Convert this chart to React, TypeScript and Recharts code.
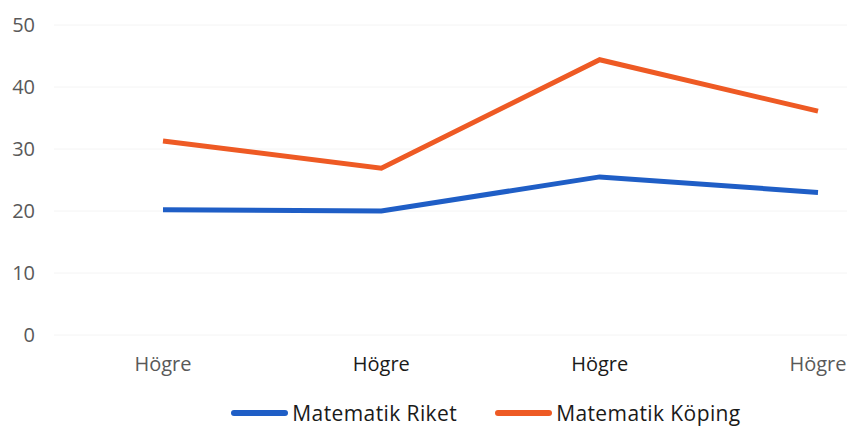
import { LineChart, Line, XAxis, YAxis, CartesianGrid, Legend } from "recharts";

const categories = ["Högre", "Högre", "Högre", "Högre"];
const riket = [20.2, 20.0, 25.5, 23.0];
const koping = [31.3, 26.9, 44.4, 36.1];
const yTicks = [0, 10, 20, 30, 40, 50];
const seriesOrder = ["Matematik Riket", "Matematik Köping"];

const data = categories.map((c, i) => ({
    name: c,
    riket: riket[i],
    koping: koping[i],
}));

const FONT = "'Open Sans', sans-serif";

const XTick = (props: any) => {
    const { x, y, payload, index } = props;
    const dark = index === 1 || index === 2;
    return (
        <text
            x={x}
            y={y}
            dy="0.71em"
            textAnchor="middle"
            fill={dark ? "#1a1a1a" : "#595959"}
            fontSize={20}
            fontFamily={FONT}
        >
            {payload.value}
        </text>
    );
};

const LegendContent = (props: any) => {
    const items = [...(props.payload || [])].sort(
        (a: any, b: any) => seriesOrder.indexOf(a.value) - seriesOrder.indexOf(b.value)
    );
    return (
        <div
            style={{
                display: "flex",
                justifyContent: "center",
                alignItems: "center",
                height: 30,
                paddingLeft: 45,
                fontFamily: FONT,
                fontSize: 21,
                letterSpacing: 0.4,
                color: "#1a1a1a",
            }}
        >
            {items.map((p: any) => (
                <div
                    key={p.value}
                    style={{ display: "flex", alignItems: "center", margin: "0 19px" }}
                >
                    <span
                        style={{
                            display: "inline-block",
                            width: 57,
                            height: 6,
                            borderRadius: 3,
                            background: p.color,
                            marginRight: 4,
                        }}
                    />
                    <span>{p.value}</span>
                </div>
            ))}
        </div>
    );
};

export default function App() {
    return (
        <div
            style={{
                position: "absolute",
                left: 0,
                top: 0,
                width: 847,
                height: 428,
                overflow: "hidden",
                background: "#fff",
            }}
        >
            <LineChart
                width={975}
                height={428}
                data={data}
                margin={{ top: 25, right: 48, left: 0, bottom: 0 }}
            >
                <CartesianGrid vertical={false} stroke="#f4f4f4" />
                <XAxis
                    dataKey="name"
                    axisLine={false}
                    tickLine={false}
                    tickSize={0}
                    tickMargin={22}
                    height={63}
                    padding={{ left: 109, right: 109 }}
                    tick={<XTick />}
                    interval={0}
                />
                <YAxis
                    domain={[0, 50]}
                    ticks={yTicks}
                    axisLine={false}
                    tickLine={false}
                    tickSize={0}
                    tickMargin={19}
                    width={54}
                    tick={{ fill: "#595959", fontSize: 20, fontFamily: FONT }}
                />
                <Legend
                    verticalAlign="bottom"
                    content={<LegendContent />}
                    wrapperStyle={{ height: 30 }}
                />
                <Line
                    dataKey="riket"
                    name="Matematik Riket"
                    stroke="#1f5ec6"
                    strokeWidth={5}
                    dot={false}
                    activeDot={false}
                    isAnimationActive={false}
                />
                <Line
                    dataKey="koping"
                    name="Matematik Köping"
                    stroke="#ee5a24"
                    strokeWidth={5}
                    dot={false}
                    activeDot={false}
                    isAnimationActive={false}
                />
            </LineChart>
        </div>
    );
}
